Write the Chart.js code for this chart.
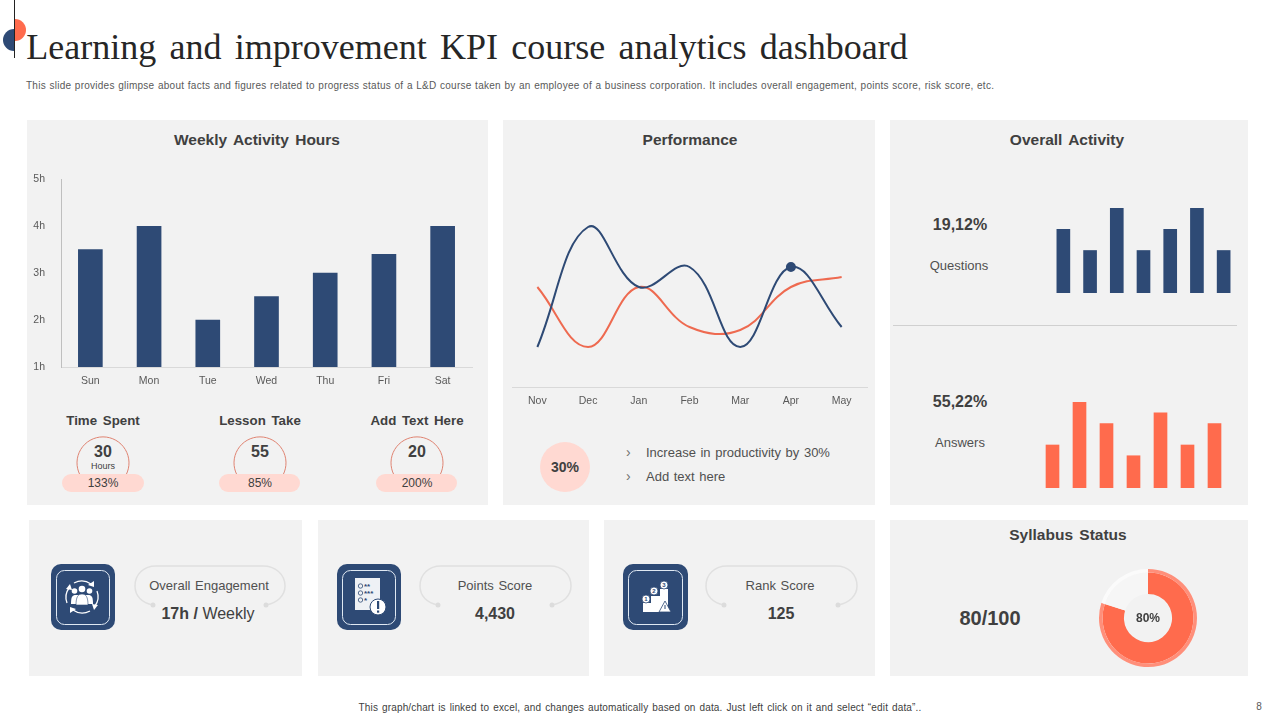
<!DOCTYPE html>
<html>
<head>
<meta charset="utf-8">
<title>Learning and improvement KPI course analytics dashboard</title>
<script src="https://cdn.jsdelivr.net/npm/chart.js@4"></script>
<style>
html, body { margin: 0; padding: 0; background: #fff; }
body { width: 1280px; height: 720px; position: relative; overflow: hidden; font-family: "Liberation Sans", Arial, sans-serif; color: #404040; }
.panel { position: absolute; background: #f2f2f2; }
.t { position: absolute; transform: translate(-50%, -50%); white-space: nowrap; }
.l { position: absolute; transform: translateY(-50%); white-space: nowrap; }
.head { font-weight: bold; font-size: 15.5px; word-spacing: 2px; }
.sub { font-weight: bold; font-size: 13.3px; word-spacing: 2px; }
.body { font-size: 13px; word-spacing: 1px; color: #505050; }
canvas { position: absolute; }
svg { position: absolute; left: 0; top: 0; }
</style>
</head>
<body>

<div class="panel" style="left:27px;top:120px;width:461px;height:385px"></div>
<div class="panel" style="left:503px;top:120px;width:372px;height:385px"></div>
<div class="panel" style="left:890px;top:120px;width:358px;height:385px"></div>
<div class="panel" style="left:29px;top:520px;width:273px;height:156px"></div>
<div class="panel" style="left:318px;top:520px;width:271px;height:156px"></div>
<div class="panel" style="left:604px;top:520px;width:271px;height:156px"></div>
<div class="panel" style="left:890px;top:520px;width:358px;height:156px"></div>

<svg width="1280" height="720" viewBox="0 0 1280 720">
  <!-- corner mark -->
  <path d="M15 19 A11 11 0 0 1 15 41 Z" fill="#ff6b4d"/>
  <path d="M14 29 A11 11 0 0 0 14 51 Z" fill="#2e4a75"/>
  <line x1="14.5" y1="0" x2="14.5" y2="58" stroke="#222" stroke-width="1"/>
  <!-- divider -->
  <line x1="893" y1="325.5" x2="1237" y2="325.5" stroke="#d0d0d0"/>
  <!-- gauges -->
  <g fill="none" stroke="#e08472" stroke-width="1">
    <path d="M80 475 A26 26 0 1 1 126 475"/>
    <path d="M237 475 A26 26 0 1 1 283 475"/>
    <path d="M394 475 A26 26 0 1 1 440 475"/>
  </g>
  <g fill="#ffd9d2">
    <rect x="62" y="474" width="82" height="18" rx="9"/>
    <rect x="219" y="474" width="81" height="18" rx="9"/>
    <rect x="376" y="474" width="81" height="18" rx="9"/>
    <circle cx="565" cy="467" r="25"/>
  </g>
  <!-- capsule outlines -->
  <g fill="none" stroke="#e0e0e0" stroke-width="1.5">
    <path d="M153 605 C142 603 135 596 135 586 C135 574 144 566 156 566 L263 566 C275 566 285 574 285 586 C285 596 277 603 266 605"/>
    <path d="M438 605 C427 603 420 596 420 586 C420 574 429 566 441 566 L550 566 C562 566 571 574 571 586 C571 596 563 603 552 605"/>
    <path d="M724 605 C713 603 706 596 706 586 C706 574 715 566 727 566 L836 566 C848 566 857 574 857 586 C857 596 849 603 838 605"/>
  </g>
  <g fill="#dcdcdc">
    <circle cx="153" cy="605" r="2.5"/><circle cx="266" cy="605" r="2.5"/>
    <circle cx="438" cy="605" r="2.5"/><circle cx="552" cy="605" r="2.5"/>
    <circle cx="724" cy="605" r="2.5"/><circle cx="838" cy="605" r="2.5"/>
  </g>
  <!-- icon tiles -->
  <g fill="#2e4a75">
    <rect x="51" y="564" width="64" height="66" rx="10"/>
    <rect x="337" y="564" width="64" height="66" rx="10"/>
    <rect x="623" y="564" width="65" height="66" rx="10"/>
  </g>
  <g fill="none" stroke="#dfe8f2" stroke-width="1">
    <rect x="56.5" y="570.5" width="53" height="54" rx="8"/>
    <rect x="342.5" y="570.5" width="53" height="54" rx="8"/>
    <rect x="628.5" y="570.5" width="54" height="54" rx="8"/>
  </g>
  <!-- engagement icon -->
  <g fill="none" stroke="#fff" stroke-width="1.3">
    <path d="M67 603 A16 16 0 0 1 69 588"/>
    <path d="M74 583 A16 16 0 0 1 91 584"/>
    <path d="M97 591 A16 16 0 0 1 95 606"/>
    <path d="M90 611 A16 16 0 0 1 73 610"/>
  </g>
  <g fill="#fff">
    <path d="M66 589 L72 590 L70 584 Z"/><path d="M94 581 L94 587 L88 585 Z"/>
    <path d="M98 605 L92 604 L94 610 Z"/><path d="M70 613 L70 607 L76 609 Z"/>
    <circle cx="74.5" cy="591" r="2.8"/><circle cx="89.5" cy="591" r="2.8"/><circle cx="82" cy="589" r="3.3"/>
    <path d="M71 604 C71 597 72 595 76 595 L88 595 C92 595 93 597 93 604 Z"/>
    <path d="M76 605 C76 597 78 594 82 594 C86 594 88 597 88 605 Z" stroke="#2e4a75" stroke-width=".6"/>
  </g>
  <!-- checklist icon -->
  <rect x="355" y="578" width="25" height="32" fill="#eef1f5"/>
  <g fill="none" stroke="#2e4a75" stroke-width=".8">
    <circle cx="360.5" cy="586" r="2.2"/><circle cx="360.5" cy="593" r="2.2"/><circle cx="360.5" cy="600" r="2.2"/>
  </g>
  <g fill="#2e4a75" font-size="8" font-weight="bold" font-family="Liberation Sans">
    <text x="364" y="589">**</text>
    <text x="364" y="596">***</text>
    <text x="364" y="603">*</text>
  </g>
  <circle cx="378" cy="607" r="8" fill="#fff" stroke="#2e4a75" stroke-width="1"/>
  <rect x="377" y="601" width="2.2" height="8" fill="#2e4a75"/><rect x="377" y="610.5" width="2.2" height="2.2" fill="#2e4a75"/>
  <!-- rank icon -->
  <path d="M643 612 L643 603 L651 603 L651 596 L660 596 L660 589 L668 589 L668 612 Z" fill="#fff"/>
  <g fill="#fff" stroke="#2e4a75" stroke-width=".8">
    <circle cx="646" cy="599" r="4"/><circle cx="654" cy="591" r="4"/><circle cx="664" cy="585" r="4"/>
    <path d="M659 612 L665 601 L671 612 Z"/>
  </g>
  <g fill="#2e4a75" font-size="6" font-weight="bold" font-family="Liberation Sans" text-anchor="middle">
    <text x="646" y="601">1</text><text x="654" y="593">2</text><text x="664" y="587">3</text>
  </g>
  <line x1="665" y1="605" x2="665" y2="609" stroke="#2e4a75" stroke-width="1"/>
</svg>

<div class="t" style="left:467px;top:47px;font-family:'Liberation Serif',serif;font-size:36px;color:#262626;word-spacing:4.3px" id="title">Learning and improvement KPI course analytics dashboard</div>
<div class="l" style="left:26px;top:85px;font-size:10px;color:#595959;letter-spacing:.255px;word-spacing:.5px">This slide provides glimpse about facts and figures related to progress status of a L&amp;D course taken by an employee of a business corporation. It includes overall engagement, points score, risk score, etc.</div>

<div class="t head" style="left:257px;top:140px">Weekly Activity Hours</div>
<div class="t head" style="left:690px;top:140px">Performance</div>
<div class="t head" style="left:1067px;top:140px">Overall Activity</div>
<div class="t head" style="left:1068px;top:535px">Syllabus Status</div>

<div class="t sub" style="left:103px;top:420px">Time Spent</div>
<div class="t sub" style="left:260px;top:420px">Lesson Take</div>
<div class="t sub" style="left:417px;top:420px">Add Text Here</div>
<div class="t" style="left:103px;top:452px;font-size:16px;font-weight:bold">30</div>
<div class="t" style="left:103px;top:466px;font-size:9px">Hours</div>
<div class="t" style="left:260px;top:452px;font-size:16px;font-weight:bold">55</div>
<div class="t" style="left:417px;top:452px;font-size:16px;font-weight:bold">20</div>
<div class="t" style="left:103px;top:483px;font-size:12px">133%</div>
<div class="t" style="left:260px;top:483px;font-size:12px">85%</div>
<div class="t" style="left:417px;top:483px;font-size:12px">200%</div>

<div class="t" style="left:565px;top:467px;font-size:14px;font-weight:bold">30%</div>
<div class="l" style="left:626px;top:452px;font-size:14px;color:#707070">›</div>
<div class="l" style="left:626px;top:476px;font-size:14px;color:#707070">›</div>
<div class="l body" style="left:646px;top:452px">Increase in productivity by 30%</div>
<div class="l body" style="left:646px;top:476px">Add text here</div>

<div class="t" style="left:960px;top:225px;font-size:16px;font-weight:bold">19,12%</div>
<div class="t body" style="left:959px;top:265px">Questions</div>
<div class="t" style="left:960px;top:402px;font-size:16px;font-weight:bold">55,22%</div>
<div class="t body" style="left:960px;top:442px">Answers</div>

<div class="t body" style="left:209px;top:585px">Overall Engagement</div>
<div class="t" style="left:208px;top:614px;font-size:16px"><b>17h /</b> Weekly</div>
<div class="t body" style="left:495px;top:585px">Points Score</div>
<div class="t" style="left:495px;top:614px;font-size:16px;font-weight:bold">4,430</div>
<div class="t body" style="left:780px;top:585px">Rank Score</div>
<div class="t" style="left:781px;top:614px;font-size:16px;font-weight:bold">125</div>
<div class="t" style="left:990px;top:618px;font-size:20px;font-weight:bold">80/100</div>

<div class="t" style="left:640px;top:707px;font-size:10px;color:#404040;letter-spacing:.15px;word-spacing:1px">This graph/chart is linked to excel, and changes automatically based on data. Just left click on it and select “edit data”..</div>
<div class="t" style="left:1259px;top:706px;font-size:10px;color:#595959">8</div>

<canvas id="weekly" width="461" height="230" style="left:27px;top:165px"></canvas>
<canvas id="performance" width="372" height="240" style="left:503px;top:180px"></canvas>
<canvas id="questions" width="187" height="85" style="left:1050px;top:208px"></canvas>
<canvas id="answers" width="189" height="86" style="left:1039px;top:402px"></canvas>
<canvas id="syllabus" width="110" height="110" style="left:1093px;top:563px"></canvas>
<div class="t" style="left:1148px;top:618px;font-size:12px;font-weight:bold">80%</div>

<script>
var navy = "#2e4a75";
var orange = "#ff6b4d";
var tickFont = { family: "'Liberation Sans', Arial, sans-serif", size: 10.5 };

Chart.defaults.animation = false;
Chart.defaults.responsive = false;
Chart.defaults.plugins.legend.display = false;
Chart.defaults.plugins.tooltip.enabled = false;
Chart.defaults.devicePixelRatio = 1;

new Chart(document.getElementById("weekly"), {
    type: "bar",
    data: {
        labels: ["Sun", "Mon", "Tue", "Wed", "Thu", "Fri", "Sat"],
        datasets: [{
            data: [3.5, 4, 2, 2.5, 3, 3.4, 4],
            backgroundColor: navy,
            barThickness: 24
        }]
    },
    options: {
        layout: { padding: { top: 13, right: 16 } },
        scales: {
            x: {
                grid: { display: false, drawTicks: false },
                border: { color: "#d9d9d9" },
                ticks: { color: "#595959", font: tickFont, padding: 8 },
                afterFit: function (axis) { axis.height = 28; }
            },
            y: {
                min: 1,
                max: 5,
                grid: { display: false },
                border: { color: "#bfbfbf" },
                ticks: {
                    stepSize: 1,
                    color: "#595959",
                    font: tickFont,
                    padding: 8,
                    callback: function (v) { return v + "h"; }
                },
                afterFit: function (axis) { axis.width = 34; }
            }
        }
    }
});

// y axis is hidden in the reference, values are on a 0-10 scale
new Chart(document.getElementById("performance"), {
    type: "line",
    data: {
        labels: ["Nov", "Dec", "Jan", "Feb", "Mar", "Apr", "May"],
        datasets: [{
            data: [2, 8, 5, 6, 2, 6, 3],
            borderColor: navy,
            backgroundColor: navy,
            borderWidth: 2,
            tension: 0.4,
            pointRadius: [0, 0, 0, 0, 0, 4, 0]
        }, {
            data: [5, 2, 5, 3, 2.85, 5, 5.5],
            borderColor: "#ee6a50",
            borderWidth: 2,
            tension: 0.4,
            pointRadius: 0
        }]
    },
    options: {
        layout: { padding: { left: 9, right: 8 } },
        scales: {
            x: {
                offset: true,
                grid: { display: false, drawTicks: false },
                border: { color: "#d9d9d9" },
                ticks: { color: "#595959", font: tickFont, padding: 8 },
                afterFit: function (axis) { axis.height = 33; }
            },
            y: { display: false, min: 0, max: 10.35 }
        }
    }
});

function miniBars(id, values, color) {
    new Chart(document.getElementById(id), {
        type: "bar",
        data: {
            labels: values.map(function (v, i) { return i; }),
            datasets: [{ data: values, backgroundColor: color, barThickness: 13 }]
        },
        options: {
            scales: {
                x: { display: false },
                y: { display: false, min: 0, max: 4 }
            }
        }
    });
}
miniBars("questions", [3, 2, 4, 2, 3, 4, 2], navy);
miniBars("answers", [2, 4, 3, 1.5, 3.5, 2, 3], orange);

new Chart(document.getElementById("syllabus"), {
    type: "doughnut",
    data: {
        labels: ["Done", "Left"],
        datasets: [{
            data: [80, 20],
            backgroundColor: ["#ff8f7a", "#fbfbfb"],
            borderWidth: 0,
            weight: 1
        }, {
            data: [80, 20],
            backgroundColor: [orange, "#f6f6f6"],
            borderWidth: 0,
            weight: 6
        }]
    },
    options: {
        radius: 49,
        cutout: 27
    }
});
</script>
</body>
</html>
